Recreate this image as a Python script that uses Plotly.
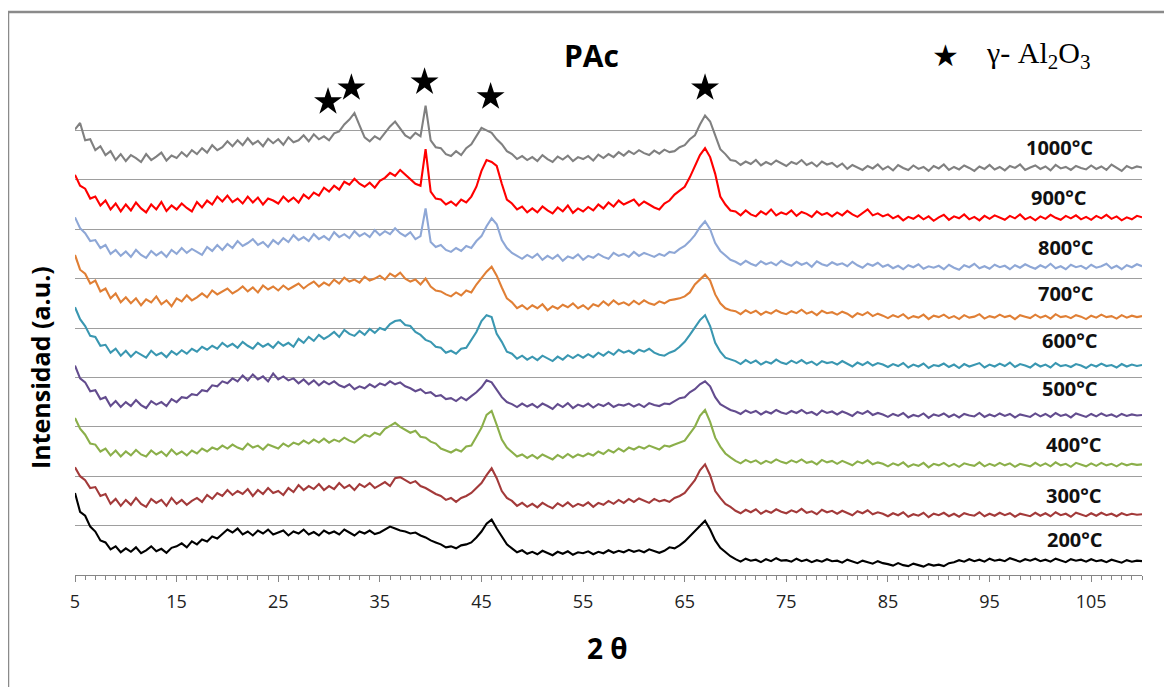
import plotly.graph_objects as go

# ---- data ----
two_theta = [5 + 0.5 * i for i in range(211)]  # scan grid 5..110 deg, step 0.5

i_1000 = [9.02, 9.15, 8.80, 8.82, 8.60, 8.68, 8.50, 8.58, 8.40, 8.52,
          8.38, 8.50, 8.44, 8.36, 8.52, 8.40, 8.47, 8.55, 8.39, 8.49,
          8.44, 8.56, 8.47, 8.60, 8.52, 8.64, 8.55, 8.70, 8.60, 8.66,
          8.78, 8.68, 8.80, 8.70, 8.84, 8.72, 8.79, 8.68, 8.83, 8.74,
          8.82, 8.71, 8.86, 8.76, 8.80, 8.90, 8.78, 8.92, 8.82, 8.88,
          8.80, 8.94, 8.98, 9.12, 9.22, 9.35, 9.10, 8.86, 8.78, 8.88,
          8.82, 8.96, 9.08, 9.18, 9.05, 8.90, 8.84, 8.95, 8.88, 9.50,
          8.80, 8.66, 8.64, 8.52, 8.48, 8.58, 8.50, 8.64, 8.72, 8.88,
          9.05, 9.00, 8.95, 8.82, 8.72, 8.58, 8.52, 8.42, 8.48, 8.40,
          8.46, 8.38, 8.50, 8.42, 8.36, 8.47, 8.41, 8.49, 8.38, 8.46,
          8.42, 8.48, 8.39, 8.51, 8.44, 8.52, 8.46, 8.56, 8.49, 8.58,
          8.52, 8.60, 8.54, 8.50, 8.59, 8.53, 8.61, 8.56, 8.58, 8.66,
          8.70, 8.82, 8.90, 9.12, 9.30, 9.18, 8.88, 8.62, 8.52, 8.40,
          8.38, 8.30, 8.37, 8.32, 8.40, 8.29, 8.36, 8.31, 8.39, 8.33,
          8.28, 8.36, 8.32, 8.40, 8.30, 8.35, 8.27, 8.37, 8.31, 8.34,
          8.26, 8.33, 8.22, 8.30, 8.25, 8.20, 8.28, 8.23, 8.31, 8.21,
          8.27, 8.19, 8.30, 8.24, 8.20, 8.29, 8.22, 8.26, 8.18, 8.28,
          8.23, 8.31, 8.20, 8.26, 8.21, 8.29, 8.24, 8.18, 8.27, 8.22,
          8.30, 8.21, 8.26, 8.19, 8.28, 8.24, 8.31, 8.20, 8.25, 8.29,
          8.22, 8.27, 8.19, 8.30, 8.23, 8.26, 8.20, 8.28, 8.24, 8.21,
          8.29, 8.22, 8.27, 8.20, 8.31, 8.24, 8.18, 8.28, 8.23, 8.27,
          8.25]

i_900 = [8.10, 7.88, 7.82, 7.62, 7.66, 7.48, 7.58, 7.40, 7.52, 7.36,
         7.50, 7.38, 7.54, 7.42, 7.34, 7.50, 7.40, 7.55, 7.37, 7.48,
         7.40, 7.52, 7.43, 7.36, 7.55, 7.44, 7.58, 7.50, 7.66, 7.56,
         7.68, 7.55, 7.62, 7.52, 7.66, 7.54, 7.64, 7.50, 7.62, 7.58,
         7.52, 7.66, 7.56, 7.64, 7.54, 7.70, 7.62, 7.74, 7.68, 7.84,
         7.76, 7.88, 7.80, 7.96, 7.90, 8.02, 7.92, 7.86, 7.94, 7.84,
         7.98, 8.04, 8.14, 8.08, 8.20, 8.10, 8.02, 7.92, 7.88, 8.62,
         7.76, 7.62, 7.60, 7.50, 7.56, 7.48, 7.60, 7.54, 7.66, 7.86,
         8.18, 8.40, 8.36, 8.28, 7.92, 7.60, 7.52, 7.40, 7.46, 7.34,
         7.42, 7.34, 7.46, 7.38, 7.32, 7.44, 7.36, 7.48, 7.33, 7.42,
         7.36, 7.45, 7.38, 7.50, 7.42, 7.54, 7.46, 7.58, 7.50, 7.55,
         7.60, 7.48, 7.56, 7.50, 7.44, 7.40, 7.52, 7.58, 7.70, 7.78,
         7.86, 8.05, 8.28, 8.50, 8.64, 8.46, 8.12, 7.66, 7.50, 7.38,
         7.36, 7.28, 7.38, 7.30, 7.26, 7.36, 7.30, 7.40, 7.28, 7.34,
         7.30, 7.38, 7.27, 7.35, 7.31, 7.25, 7.36, 7.29, 7.33, 7.26,
         7.34, 7.28, 7.37, 7.30, 7.25, 7.33, 7.40, 7.28, 7.32, 7.26,
         7.30, 7.22, 7.27, 7.18, 7.25, 7.21, 7.28, 7.20, 7.26, 7.17,
         7.24, 7.29, 7.19, 7.26, 7.22, 7.30, 7.20, 7.25, 7.18, 7.27,
         7.21, 7.28, 7.23, 7.19, 7.27, 7.22, 7.30, 7.20, 7.25, 7.18,
         7.26, 7.21, 7.29, 7.23, 7.19, 7.27, 7.22, 7.28, 7.20, 7.25,
         7.19, 7.27, 7.22, 7.29, 7.21, 7.26, 7.18, 7.24, 7.20, 7.27,
         7.24]

i_800 = [7.24, 7.02, 6.92, 6.76, 6.78, 6.62, 6.68, 6.50, 6.58, 6.46,
         6.55, 6.44, 6.58, 6.48, 6.42, 6.56, 6.47, 6.54, 6.44, 6.58,
         6.50, 6.62, 6.52, 6.60, 6.54, 6.48, 6.64, 6.56, 6.68, 6.58,
         6.70, 6.62, 6.76, 6.66, 6.72, 6.80, 6.68, 6.74, 6.64, 6.78,
         6.70, 6.82, 6.74, 6.88, 6.78, 6.84, 6.76, 6.90, 6.80, 6.86,
         6.78, 6.94, 6.84, 6.90, 6.82, 6.96, 6.86, 6.92, 6.84, 6.98,
         6.88, 6.96, 6.90, 7.02, 6.92, 6.86, 6.94, 6.80, 6.86, 7.42,
         6.74, 6.64, 6.68, 6.58, 6.54, 6.62, 6.56, 6.66, 6.62, 6.76,
         6.86, 7.06, 7.22, 7.10, 6.78, 6.62, 6.52, 6.46, 6.40, 6.48,
         6.42, 6.50, 6.38, 6.46, 6.40, 6.48, 6.36, 6.45, 6.41, 6.49,
         6.38, 6.46, 6.42, 6.50, 6.44, 6.40, 6.52, 6.46, 6.50, 6.44,
         6.54, 6.46, 6.52, 6.48, 6.44, 6.50, 6.46, 6.54, 6.52, 6.60,
         6.66, 6.76, 6.88, 7.04, 7.16, 7.00, 6.72, 6.56, 6.46, 6.38,
         6.34, 6.28, 6.36, 6.30, 6.26, 6.35, 6.29, 6.33, 6.27, 6.36,
         6.30, 6.26, 6.34, 6.28, 6.32, 6.24, 6.35, 6.29, 6.26, 6.33,
         6.28, 6.31, 6.25, 6.34, 6.27, 6.22, 6.30, 6.26, 6.32, 6.24,
         6.28, 6.21, 6.26, 6.19, 6.27, 6.23, 6.29, 6.20, 6.25, 6.22,
         6.26, 6.19, 6.28, 6.22, 6.18, 6.27, 6.23, 6.30, 6.21, 6.25,
         6.20, 6.28, 6.23, 6.26, 6.19, 6.27, 6.22, 6.29, 6.24, 6.20,
         6.27, 6.22, 6.30, 6.21, 6.25, 6.19, 6.28, 6.23, 6.26, 6.20,
         6.28, 6.22, 6.25, 6.30, 6.21, 6.26, 6.19, 6.27, 6.23, 6.29,
         6.25]

i_700 = [6.48, 6.18, 6.10, 5.90, 5.96, 5.74, 5.80, 5.60, 5.70, 5.52,
         5.62, 5.50, 5.60, 5.46, 5.58, 5.52, 5.64, 5.48, 5.56, 5.44,
         5.60, 5.54, 5.66, 5.56, 5.62, 5.70, 5.62, 5.76, 5.68, 5.74,
         5.80, 5.70, 5.76, 5.84, 5.74, 5.82, 5.72, 5.86, 5.78, 5.84,
         5.76, 5.86, 5.78, 5.84, 5.90, 5.80, 5.88, 5.94, 5.84, 5.92,
         5.86, 5.98, 5.90, 6.02, 5.94, 5.98, 5.92, 6.04, 5.96, 6.00,
         6.06, 5.98, 6.10, 6.04, 6.12, 6.00, 5.94, 5.98, 5.88, 6.00,
         5.84, 5.76, 5.74, 5.68, 5.64, 5.72, 5.66, 5.76, 5.72, 5.88,
         6.02, 6.14, 6.24, 6.06, 5.82, 5.60, 5.52, 5.40, 5.46, 5.38,
         5.46, 5.40, 5.48, 5.36, 5.44, 5.39, 5.47, 5.42, 5.50, 5.40,
         5.46, 5.38, 5.48, 5.44, 5.54, 5.46, 5.56, 5.48, 5.52, 5.46,
         5.55, 5.48, 5.56, 5.50, 5.47, 5.54, 5.50, 5.56, 5.58, 5.60,
         5.64, 5.72, 5.88, 5.98, 6.08, 5.96, 5.68, 5.50, 5.40, 5.36,
         5.34, 5.28, 5.36, 5.30, 5.35, 5.27, 5.33, 5.29, 5.36, 5.31,
         5.28, 5.34, 5.30, 5.37, 5.29, 5.33, 5.26, 5.35, 5.30, 5.32,
         5.27, 5.33, 5.29, 5.22, 5.30, 5.26, 5.32, 5.24, 5.29, 5.25,
         5.20, 5.26, 5.22, 5.28, 5.19, 5.24, 5.21, 5.27, 5.18, 5.25,
         5.22, 5.27, 5.20, 5.24, 5.18, 5.26, 5.21, 5.23, 5.28, 5.19,
         5.24, 5.21, 5.27, 5.22, 5.25, 5.18, 5.26, 5.23, 5.20, 5.27,
         5.21, 5.25, 5.19, 5.28, 5.22, 5.24, 5.20, 5.26, 5.23, 5.18,
         5.25, 5.21, 5.27, 5.22, 5.24, 5.19, 5.26, 5.21, 5.25, 5.22,
         5.24]

i_600 = [5.42, 5.18, 5.04, 4.84, 4.82, 4.64, 4.66, 4.50, 4.58, 4.44,
         4.54, 4.42, 4.52, 4.46, 4.40, 4.54, 4.45, 4.50, 4.41, 4.53,
         4.46, 4.55, 4.48, 4.58, 4.52, 4.62, 4.56, 4.64, 4.58, 4.70,
         4.62, 4.68, 4.60, 4.72, 4.64, 4.58, 4.70, 4.62, 4.68, 4.60,
         4.72, 4.64, 4.70, 4.62, 4.78, 4.70, 4.82, 4.74, 4.86, 4.78,
         4.84, 4.92, 4.82, 4.96, 4.88, 4.84, 4.94, 4.86, 4.98, 4.90,
         5.00, 4.96, 5.08, 5.14, 5.16, 5.06, 5.04, 4.92, 4.86, 4.76,
         4.72, 4.62, 4.60, 4.50, 4.54, 4.48, 4.58, 4.60, 4.76, 4.92,
         5.14, 5.26, 5.22, 4.88, 4.72, 4.52, 4.48, 4.38, 4.44, 4.36,
         4.42, 4.35, 4.44, 4.38, 4.33, 4.42, 4.36, 4.45, 4.39, 4.46,
         4.40, 4.47, 4.41, 4.50, 4.44, 4.52, 4.46, 4.56, 4.50, 4.54,
         4.48, 4.56, 4.52, 4.58, 4.50, 4.46, 4.44, 4.50, 4.54, 4.62,
         4.72, 4.86, 5.02, 5.16, 5.26, 5.04, 4.70, 4.52, 4.40, 4.36,
         4.33, 4.27, 4.35, 4.29, 4.34, 4.26, 4.32, 4.28, 4.36, 4.30,
         4.27, 4.34, 4.29, 4.35, 4.28, 4.32, 4.25, 4.33, 4.29, 4.31,
         4.26, 4.33, 4.28, 4.22, 4.30, 4.25, 4.31, 4.24, 4.29, 4.26,
         4.21, 4.27, 4.23, 4.29, 4.20, 4.26, 4.22, 4.28, 4.19, 4.25,
         4.23, 4.28, 4.21, 4.26, 4.19, 4.27, 4.22, 4.25, 4.29, 4.20,
         4.26, 4.22, 4.28, 4.23, 4.30, 4.21, 4.27, 4.24, 4.20, 4.28,
         4.22, 4.26, 4.20, 4.29, 4.23, 4.25, 4.21, 4.27, 4.24, 4.19,
         4.26, 4.22, 4.28, 4.23, 4.25, 4.20, 4.27, 4.22, 4.26, 4.23,
         4.25]

i_500 = [4.24, 3.98, 3.90, 3.72, 3.74, 3.56, 3.60, 3.42, 3.52, 3.40,
         3.50, 3.42, 3.54, 3.44, 3.38, 3.52, 3.45, 3.50, 3.42, 3.56,
         3.50, 3.60, 3.58, 3.66, 3.64, 3.74, 3.72, 3.84, 3.82, 3.92,
         3.88, 3.98, 3.92, 4.04, 3.94, 4.06, 3.96, 4.02, 3.92, 4.08,
         3.96, 4.02, 3.94, 3.98, 3.88, 3.96, 3.86, 3.94, 3.84, 3.92,
         3.86, 3.92, 3.84, 3.80, 3.86, 3.76, 3.82, 3.78, 3.86, 3.80,
         3.88, 3.84, 3.92, 3.86, 3.90, 3.82, 3.78, 3.72, 3.76, 3.68,
         3.70, 3.62, 3.64, 3.56, 3.58, 3.52, 3.60, 3.54, 3.62, 3.70,
         3.80, 3.94, 3.90, 3.74, 3.60, 3.50, 3.46, 3.40, 3.47, 3.41,
         3.46, 3.39, 3.47, 3.42, 3.36, 3.46, 3.40, 3.48, 3.38, 3.45,
         3.41, 3.47, 3.39, 3.46, 3.42, 3.48, 3.40, 3.45, 3.43, 3.47,
         3.41, 3.46, 3.40, 3.48, 3.44, 3.42, 3.47, 3.46, 3.52, 3.58,
         3.60, 3.70, 3.76, 3.86, 3.92, 3.82, 3.60, 3.46, 3.40, 3.34,
         3.31, 3.26, 3.33, 3.28, 3.32, 3.25, 3.31, 3.27, 3.34, 3.29,
         3.26, 3.32, 3.28, 3.34, 3.27, 3.30, 3.24, 3.33, 3.28, 3.31,
         3.25, 3.31, 3.27, 3.22, 3.30, 3.26, 3.32, 3.24, 3.28, 3.25,
         3.20, 3.26, 3.22, 3.28, 3.19, 3.24, 3.21, 3.27, 3.18, 3.25,
         3.22, 3.27, 3.20, 3.25, 3.19, 3.26, 3.23, 3.21, 3.28, 3.20,
         3.25, 3.21, 3.27, 3.22, 3.26, 3.19, 3.25, 3.23, 3.20, 3.27,
         3.21, 3.26, 3.20, 3.28, 3.22, 3.25, 3.19, 3.27, 3.23, 3.20,
         3.26, 3.21, 3.27, 3.22, 3.25, 3.20, 3.26, 3.22, 3.25, 3.23,
         3.24]

i_400 = [3.18, 2.96, 2.84, 2.66, 2.64, 2.50, 2.56, 2.42, 2.52, 2.40,
         2.50, 2.42, 2.53, 2.44, 2.40, 2.52, 2.44, 2.50, 2.41, 2.54,
         2.44, 2.50, 2.42, 2.52, 2.46, 2.56, 2.50, 2.58, 2.54, 2.62,
         2.56, 2.64, 2.58, 2.54, 2.66, 2.58, 2.62, 2.54, 2.64, 2.60,
         2.56, 2.66, 2.60, 2.68, 2.64, 2.72, 2.66, 2.74, 2.68, 2.76,
         2.68, 2.74, 2.70, 2.78, 2.72, 2.68, 2.76, 2.84, 2.80, 2.88,
         2.84, 2.96, 3.02, 3.08, 3.00, 2.94, 2.88, 2.92, 2.80, 2.78,
         2.70, 2.66, 2.56, 2.52, 2.48, 2.54, 2.50, 2.60, 2.62, 2.80,
         2.98, 3.24, 3.32, 3.04, 2.74, 2.58, 2.48, 2.40, 2.44, 2.37,
         2.43, 2.36, 2.44, 2.39, 2.34, 2.43, 2.37, 2.45, 2.38, 2.44,
         2.40, 2.46, 2.42, 2.50, 2.45, 2.53, 2.48, 2.56, 2.50, 2.58,
         2.54, 2.60, 2.56, 2.62, 2.58, 2.54, 2.62, 2.60, 2.64, 2.68,
         2.72, 2.86, 3.00, 3.22, 3.34, 3.10, 2.78, 2.60, 2.46, 2.38,
         2.31, 2.26, 2.33, 2.28, 2.32, 2.25, 2.31, 2.27, 2.34, 2.29,
         2.26, 2.32, 2.28, 2.34, 2.27, 2.30, 2.24, 2.33, 2.28, 2.31,
         2.25, 2.31, 2.27, 2.22, 2.30, 2.26, 2.32, 2.24, 2.28, 2.25,
         2.20, 2.26, 2.22, 2.28, 2.19, 2.24, 2.21, 2.27, 2.18, 2.25,
         2.22, 2.27, 2.20, 2.25, 2.19, 2.26, 2.23, 2.21, 2.28, 2.20,
         2.25, 2.21, 2.27, 2.22, 2.26, 2.19, 2.25, 2.23, 2.20, 2.27,
         2.21, 2.26, 2.20, 2.28, 2.22, 2.25, 2.19, 2.27, 2.23, 2.20,
         2.26, 2.21, 2.27, 2.22, 2.25, 2.20, 2.26, 2.22, 2.25, 2.23,
         2.24]

i_300 = [2.18, 2.00, 1.92, 1.76, 1.78, 1.60, 1.64, 1.44, 1.54, 1.40,
         1.52, 1.42, 1.56, 1.44, 1.38, 1.54, 1.46, 1.52, 1.40, 1.56,
         1.44, 1.52, 1.42, 1.50, 1.56, 1.48, 1.62, 1.54, 1.66, 1.60,
         1.72, 1.62, 1.70, 1.64, 1.74, 1.60, 1.72, 1.64, 1.76, 1.66,
         1.70, 1.62, 1.76, 1.68, 1.82, 1.72, 1.80, 1.74, 1.84, 1.72,
         1.80, 1.74, 1.86, 1.76, 1.82, 1.72, 1.84, 1.78, 1.86, 1.76,
         1.82, 1.88, 1.80, 1.96, 1.98, 1.92, 1.86, 1.90, 1.80, 1.76,
         1.70, 1.64, 1.60, 1.52, 1.56, 1.48, 1.56, 1.60, 1.66, 1.76,
         1.86, 2.02, 2.16, 1.96, 1.70, 1.56, 1.50, 1.40, 1.46, 1.38,
         1.44, 1.37, 1.46, 1.40, 1.35, 1.45, 1.39, 1.47, 1.38, 1.44,
         1.40, 1.47, 1.38, 1.46, 1.42, 1.50, 1.44, 1.52, 1.46, 1.54,
         1.48, 1.55, 1.50, 1.46, 1.54, 1.49, 1.52, 1.48, 1.56, 1.60,
         1.66, 1.80, 1.92, 2.12, 2.24, 2.02, 1.70, 1.56, 1.44, 1.38,
         1.30, 1.25, 1.32, 1.27, 1.33, 1.24, 1.30, 1.26, 1.33, 1.28,
         1.25, 1.31, 1.27, 1.34, 1.26, 1.29, 1.23, 1.32, 1.27, 1.30,
         1.24, 1.30, 1.26, 1.21, 1.29, 1.25, 1.31, 1.23, 1.27, 1.24,
         1.19, 1.25, 1.21, 1.27, 1.18, 1.23, 1.20, 1.26, 1.17, 1.24,
         1.21, 1.26, 1.19, 1.24, 1.18, 1.25, 1.22, 1.20, 1.27, 1.19,
         1.24, 1.20, 1.26, 1.21, 1.25, 1.18, 1.24, 1.22, 1.19, 1.26,
         1.20, 1.25, 1.19, 1.27, 1.21, 1.24, 1.18, 1.26, 1.22, 1.19,
         1.25, 1.20, 1.26, 1.21, 1.24, 1.19, 1.25, 1.21, 1.24, 1.22,
         1.23]

i_200 = [1.66, 1.28, 1.20, 0.98, 0.88, 0.70, 0.66, 0.52, 0.58, 0.46,
         0.54, 0.47, 0.56, 0.44, 0.50, 0.58, 0.48, 0.53, 0.45, 0.55,
         0.58, 0.64, 0.56, 0.68, 0.62, 0.72, 0.68, 0.78, 0.74, 0.84,
         0.92, 0.86, 0.94, 0.82, 0.88, 0.80, 0.90, 0.84, 0.92, 0.82,
         0.86, 0.90, 0.80, 0.88, 0.84, 0.92, 0.82, 0.87, 0.80, 0.90,
         0.84, 0.88, 0.82, 0.92, 0.86, 0.80, 0.88, 0.84, 0.90, 0.83,
         0.86, 0.92, 0.98, 0.94, 0.90, 0.88, 0.84, 0.86, 0.80, 0.76,
         0.70, 0.66, 0.62, 0.56, 0.58, 0.54, 0.60, 0.62, 0.66, 0.76,
         0.88, 1.04, 1.12, 0.94, 0.78, 0.62, 0.54, 0.46, 0.50, 0.43,
         0.47, 0.42, 0.49, 0.44, 0.40, 0.47, 0.43, 0.48, 0.41, 0.46,
         0.44, 0.48, 0.42, 0.47, 0.44, 0.50, 0.45, 0.49, 0.46, 0.51,
         0.47, 0.50, 0.46, 0.52, 0.48, 0.45, 0.49, 0.56, 0.54, 0.60,
         0.68, 0.78, 0.88, 1.00, 1.10, 0.92, 0.70, 0.55, 0.46, 0.38,
         0.32, 0.27, 0.33, 0.29, 0.31, 0.26, 0.32, 0.28, 0.34, 0.29,
         0.30, 0.27, 0.33, 0.28, 0.31, 0.26, 0.30, 0.27, 0.32, 0.28,
         0.29, 0.25, 0.31, 0.27, 0.24, 0.29, 0.26, 0.23, 0.28, 0.24,
         0.22, 0.19, 0.24, 0.20, 0.18, 0.23, 0.20, 0.17, 0.22, 0.19,
         0.21, 0.18, 0.24, 0.26, 0.30, 0.27, 0.32, 0.28, 0.31, 0.27,
         0.33, 0.29, 0.31, 0.28, 0.34, 0.30, 0.27, 0.32, 0.29, 0.33,
         0.28, 0.31, 0.27, 0.33, 0.30, 0.26, 0.32, 0.29, 0.31, 0.27,
         0.32, 0.28, 0.30, 0.26, 0.31, 0.28, 0.25, 0.30, 0.27, 0.29,
         0.28]

series_names = ["1000°C", "900°C", "800°C", "700°C", "600°C", "500°C", "400°C", "300°C", "200°C"]
series_values = [i_1000, i_900, i_800, i_700, i_600, i_500, i_400, i_300, i_200]
series_colors = ["#808080", "#FF0000", "#8EA7D6", "#E07F35", "#3A97B1", "#634C8E", "#8BAF4A", "#A33A3A", "#000000"]
label_x = [105.4, 104.8, 105.5, 105.5, 105.9, 105.9, 106.3, 106.3, 106.4]
label_y = [8.66, 7.65, 6.62, 5.69, 4.74, 3.77, 2.65, 1.60, 0.71]

star_x = [29.9, 32.2, 39.4, 45.9, 67.0]
star_y = [9.58, 9.86, 9.98, 9.68, 9.86]

x_ticks = [5, 15, 25, 35, 45, 55, 65, 75, 85, 95, 105]
grid_levels = [1, 2, 3, 4, 5, 6, 7, 8, 9]

# ---- figure ----
fig = go.Figure()
for name, vals, col in zip(series_names, series_values, series_colors):
    fig.add_trace(go.Scatter(x=two_theta, y=vals, mode="lines", name=name,
                             line=dict(color=col, width=2.1), showlegend=False))

fig.add_trace(go.Scatter(x=star_x, y=star_y, mode="markers",
                         marker=dict(symbol="star", size=21, color="black"),
                         cliponaxis=False, showlegend=False))

annotations = []
for name, lx, ly in zip(series_names, label_x, label_y):
    annotations.append(dict(x=lx, y=ly, xref="x", yref="y", text="<b>%s</b>" % name,
                            showarrow=False, xanchor="right", yanchor="middle",
                            font=dict(family="Open Sans", size=20, color="#111111")))
# legend: star + label
annotations.append(dict(x=0.8154, y=1.0526, xref="paper", yref="paper", text="★",
                        showarrow=False, xanchor="center", yanchor="middle",
                        font=dict(family="DejaVu Sans", size=30, color="black")))
annotations.append(dict(x=0.8519, y=1.0526, xref="paper", yref="paper",
                        text="γ- Al<sub>2</sub>O<sub>3</sub>", showarrow=False,
                        xanchor="left", yanchor="middle",
                        font=dict(family="Liberation Serif", size=30, color="black")))
annotations.append(dict(x=0.4845, y=1.0526, xref="paper", yref="paper", text="<b>PAc</b>",
                        showarrow=False, xanchor="center", yanchor="middle",
                        font=dict(family="Open Sans", size=30, color="black")))
annotations.append(dict(x=-0.0328, y=0.419, xref="paper", yref="paper",
                        text="<b>Intensidad (a.u.)</b>", textangle=-90, showarrow=False,
                        xanchor="center", yanchor="middle",
                        font=dict(family="Open Sans", size=25, color="black")))
annotations.append(dict(x=0.4995, y=-0.1478, xref="paper", yref="paper",
                        text="<b>2 θ</b>", showarrow=False, xanchor="center", yanchor="middle",
                        font=dict(family="Open Sans", size=28, color="black")))

shapes = [
    dict(type="line", xref="paper", yref="paper", x0=-0.0628, x1=-0.0628, y0=1.1397, y1=-0.3,
         line=dict(color="#8a8a8a", width=2.5)),
    dict(type="line", xref="paper", yref="paper", x0=-0.0628, x1=1.1, y0=1.1397, y1=1.1397,
         line=dict(color="#8a8a8a", width=2.5)),
]

# the page body adds an 8px offset; margins compensate so the plot area lands at 75..1142 x 81..575
fig.update_layout(
    width=1172, height=687, autosize=False,
    margin=dict(l=67, r=38, t=73, b=120),
    paper_bgcolor="white", plot_bgcolor="white",
    annotations=annotations, shapes=shapes,
    xaxis=dict(range=[5, 110], showgrid=False, zeroline=False, showline=True,
               linecolor="#868686", linewidth=1, ticks="outside", ticklen=6,
               tickcolor="#868686", tickvals=x_ticks, ticktext=[str(v) for v in x_ticks],
               tickfont=dict(family="Open Sans", size=18, color="#222222"),
               ticklabelstandoff=4,
               minor=dict(ticks="outside", dtick=1, tick0=5, ticklen=4, tickcolor="#868686",
                          showgrid=False)),
    yaxis=dict(range=[0, 10], tickvals=grid_levels, showticklabels=False, showgrid=True,
               gridcolor="#9e9e9e", gridwidth=1, zeroline=False, showline=False, ticks=""),
)

fig.write_html("out.html")
